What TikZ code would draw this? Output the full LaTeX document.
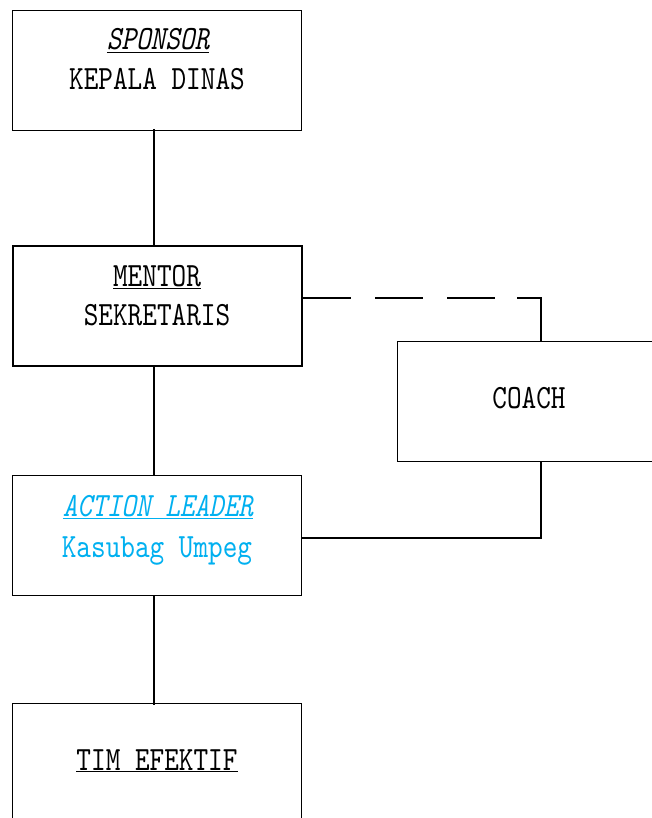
\documentclass[tikz,border=0pt]{standalone}
\usepackage{fontspec}
\newfontfamily\sunfont{lmmono10-regular}[Extension=.otf,ItalicFont=lmmono10-italic,FakeStretch=0.82]
\definecolor{lblue}{HTML}{00B0F0}
\newcommand{\ul}[1]{\underline{#1}}
\begin{document}
\begin{tikzpicture}[x=1pt,y=-1pt,
  box/.style={draw=black,line width=1pt,minimum width=289pt,minimum height=120pt,inner sep=0pt,anchor=north west},
  lbl/.style={font=\sunfont\fontsize{34}{40}\selectfont,inner sep=0pt,anchor=base},
  conn/.style={draw=black,line width=1.5pt}]
\useasboundingbox (0,0) rectangle (652,818);
\clip (0,0) rectangle (652,818);
\fill[white] (0,0) rectangle (652,818);
\node[box] (sponsor) at (12,10) {};
\node[box,line width=2.2pt] (mentor) at (12,245) {};
\node[box] (coach) at (397,341) {};
\node[box] (leader) at (12,475) {};
\node[box] (tim) at (12,703) {};
\node[lbl] (t1) at (158,50) {\itshape\ul{SPONSOR}};
\node[lbl] (t2) at (157,90) {KEPALA DINAS};
\node[lbl] (t3) at (157,286) {\ul{MENTOR}};
\node[lbl] (t4) at (157,325) {SEKRETARIS};
\node[lbl] (t5) at (529,408) {COACH};
\node[lbl,text=lblue] (t6) at (158,516) {\itshape\ul{ACTION LEADER}};
\node[lbl,text=lblue] (t7) at (157,557) {Kasubag Umpeg};
\node[lbl] (t8) at (157,770) {\ul{TIM EFEKTIF}};
\coordinate (c1) at (541,298);
\coordinate (c2) at (541,538);
\draw[conn] (154,129) -- (154,245);
\draw[conn] (154,365) -- (154,475);
\draw[conn] (154,595) -- (154,705);
\draw[conn,dash pattern=on 48pt off 24pt] (mentor.east |- c1) -- (c1);
\draw[conn] ([xshift=-24pt]c1) -- (c1) -- (coach.north -| c1);
\draw[conn] (leader.east |- c2) -- (c2) -- (coach.south -| c2);
\end{tikzpicture}
\end{document}
